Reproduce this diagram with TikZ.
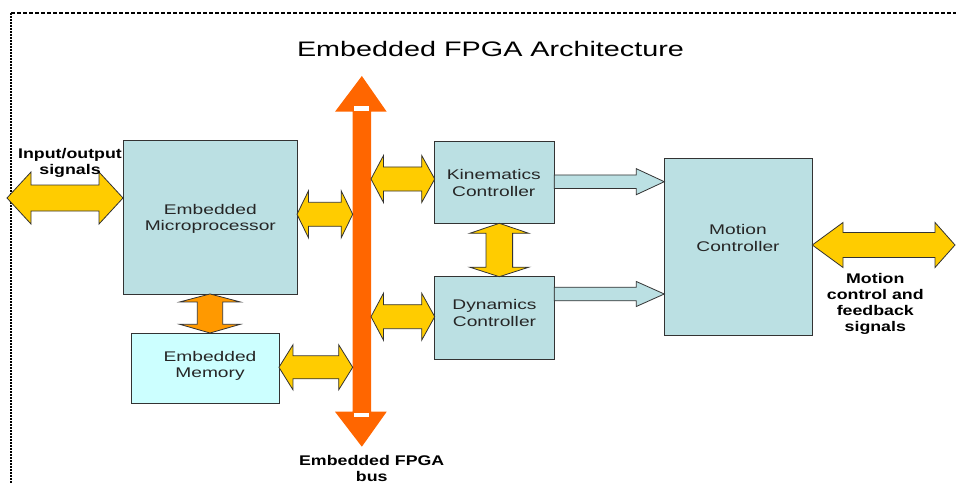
\documentclass[tikz,border=0pt]{standalone}
\usepackage{fontspec}
\setmainfont{Liberation Sans}
\newfontfamily\boxfont[FakeStretch=1.37]{Liberation Sans}
\newfontfamily\labfont[FakeStretch=1.27]{Liberation Sans}
\usetikzlibrary{calc}
\definecolor{boxblue}{HTML}{BBE0E3}
\definecolor{memcyan}{HTML}{CCFFFF}
\definecolor{yel}{HTML}{FFCC00}
\definecolor{busorange}{HTML}{FF6600}
\definecolor{memorange}{HTML}{FF9900}
\definecolor{edge}{HTML}{333333}
\definecolor{textgray}{HTML}{262626}
% horizontal double block arrow: style, left point, right point, shaft half, head half, head len left, head len right
\newcommand\hdblarrow[7]{%
  \path[#1] let \p1=(#2), \p2=(#3) in
   (\x1,\y1) -- (\x1+#6,\y1+#5) -- (\x1+#6,\y1+#4) -- (\x2-#7,\y1+#4) -- (\x2-#7,\y1+#5)
   -- (\x2,\y1) -- (\x2-#7,\y1-#5) -- (\x2-#7,\y1-#4) -- (\x1+#6,\y1-#4) -- (\x1+#6,\y1-#5) -- cycle;}
% vertical double block arrow: style, top point, bottom point, shaft half, head half, head len top, head len bottom
\newcommand\vdblarrow[7]{%
  \path[#1] let \p1=(#2), \p2=(#3) in
   (\x1,\y1) -- (\x1+#5,\y1-#6) -- (\x1+#4,\y1-#6) -- (\x1+#4,\y2+#7) -- (\x1+#5,\y2+#7)
   -- (\x1,\y2) -- (\x1-#5,\y2+#7) -- (\x1-#4,\y2+#7) -- (\x1-#4,\y1-#6) -- (\x1-#5,\y1-#6) -- cycle;}
% single block arrow to the right: style, start, tip, shaft half, head half, head len
\newcommand\hsglarrow[6]{%
  \path[#1] let \p1=(#2), \p2=(#3) in
   (\x1,\y1+#4) -- (\x2-#6,\y1+#4) -- (\x2-#6,\y1+#5) -- (\x2,\y1) -- (\x2-#6,\y1-#5)
   -- (\x2-#6,\y1-#4) -- (\x1,\y1-#4) -- cycle;}
\begin{document}
\begin{tikzpicture}[x=1pt,y=-1pt,
  blockbox/.style={draw=edge, line width=0.9pt, fill=boxblue, inner sep=0pt, outer sep=0pt},
  boxtext/.style={font=\boxfont\fontsize{14}{16.5}\selectfont, text=textgray, align=center, inner sep=0pt},
  labtext/.style={font=\labfont\bfseries\fontsize{14}{16}\selectfont, text=black, align=center, inner sep=0pt},
  titletext/.style={font=\boxfont\fontsize{21}{24}\selectfont, text=black, inner sep=0pt},
  yelarrow/.style={fill=yel, draw=edge, line width=0.8pt, line join=miter},
  orarrow/.style={fill=memorange, draw=edge, line width=0.8pt, line join=miter},
  bluearrow/.style={fill=boxblue, draw=edge, line width=0.8pt, line join=miter},
  frameline/.style={draw=black, line width=2.2pt}
]
\useasboundingbox (0,0) rectangle (956,484);
\fill[white] (0,0) rectangle (956,484);

% dashed frame
\coordinate (fc) at (11,13);
\coordinate (fr) at (956,13);
\coordinate (fb) at (11,484);
\draw[frameline, dash pattern=on 4pt off 2pt] (fc) -- (fr);
\draw[frameline, dash pattern=on 2pt off 1pt] (fc) -- (fb);

% title
\node[titletext] (title) at (490.5,49) {Embedded FPGA Architecture};

% boxes
\node[blockbox, minimum width=174pt, minimum height=153.3pt] (micro) at (210,217.3) {};
\node[blockbox, fill=memcyan, minimum width=147.3pt, minimum height=70pt] (mem) at (205.3,368) {};
\node[blockbox, minimum width=119.6pt, minimum height=81.6pt] (kin) at (494.5,182.5) {};
\node[blockbox, minimum width=119.6pt, minimum height=82.6pt] (dyn) at (494.5,318) {};
\node[blockbox, minimum width=148pt, minimum height=176.7pt] (mot) at (738.3,246.7) {};

\node[boxtext] (microtxt) at (210.3,219) {Embedded\\Microprocessor};
\node[boxtext] (memtxt) at (210,366) {Embedded\\Memory};
\node[boxtext] (kintxt) at (493.8,183) {Kinematics\\Controller};
\node[boxtext] (dyntxt) at (494.5,313) {Dynamics\\Controller};
\node[boxtext] (mottxt) at (738,238) {Motion\\Controller};

% bus
\node[inner sep=0pt, outer sep=0pt, minimum width=18.3pt, minimum height=300pt] (bus) at (361.85,261.7) {};
\fill[busorange] (bus.north west) -- (bus.south west) -- ($(bus.south west)+(-17.7,0)$)
  -- ($(bus.south)+(0,35)$) -- ($(bus.south east)+(15.7,0)$) -- (bus.south east)
  -- (bus.north east) -- ($(bus.north east)+(15.7,0)$) -- ($(bus.north)+(0,-35.7)$)
  -- ($(bus.north west)+(-17.7,0)$) -- cycle;
\fill[white] ($(bus.north west)+(1.3,-5.7)$) rectangle ($(bus.north east)+(-2,-0.7)$);
\fill[white] ($(bus.south west)+(1.3,1.3)$) rectangle ($(bus.south east)+(-2,5.3)$);

% connectors
\coordinate (ioL) at (7,198);
\hdblarrow{yelarrow}{ioL}{micro.west |- 0,198}{13pt}{26pt}{24pt}{24pt}
\hdblarrow{yelarrow}{micro.east |- 0,214.3}{bus.west |- 0,214.3}{12pt}{23.5pt}{11.5pt}{11.5pt}
\hdblarrow{yelarrow}{mem.east |- 0,367.3}{bus.west |- 0,367.3}{11.5pt}{22.5pt}{14pt}{14pt}
\hdblarrow{yelarrow}{bus.east |- 0,179}{kin.west |- 0,179}{12pt}{23.5pt}{12.5pt}{13pt}
\hdblarrow{yelarrow}{bus.east |- 0,316.7}{dyn.west |- 0,316.7}{12pt}{23.5pt}{12.5pt}{13pt}
\coordinate (moR) at (955,245);
\hdblarrow{yelarrow}{mot.east |- 0,245}{moR}{12.5pt}{22.5pt}{30.7pt}{20pt}
\vdblarrow{orarrow}{210,294 |- micro.south}{210,333 |- mem.north}{12.7pt}{30.3pt}{8pt}{8.7pt}
\vdblarrow{yelarrow}{499.3,224 |- kin.south}{499.3,276 |- dyn.north}{13.3pt}{29.5pt}{10pt}{9.5pt}
\hsglarrow{bluearrow}{kin.east |- 0,181.7}{mot.west |- 0,181.7}{6.7pt}{13pt}{28pt}
\hsglarrow{bluearrow}{dyn.east |- 0,294}{mot.west |- 0,294}{6.8pt}{12.5pt}{28pt}

% labels
\node[labtext] (iolab) at (70,163) {Input/output\\signals};
\node[labtext] (motlab) at (875.3,304) {Motion\\control and\\feedback\\signals};
\node[labtext] (buslab) at (371.7,468) {Embedded FPGA\\bus};
\end{tikzpicture}
\end{document}
